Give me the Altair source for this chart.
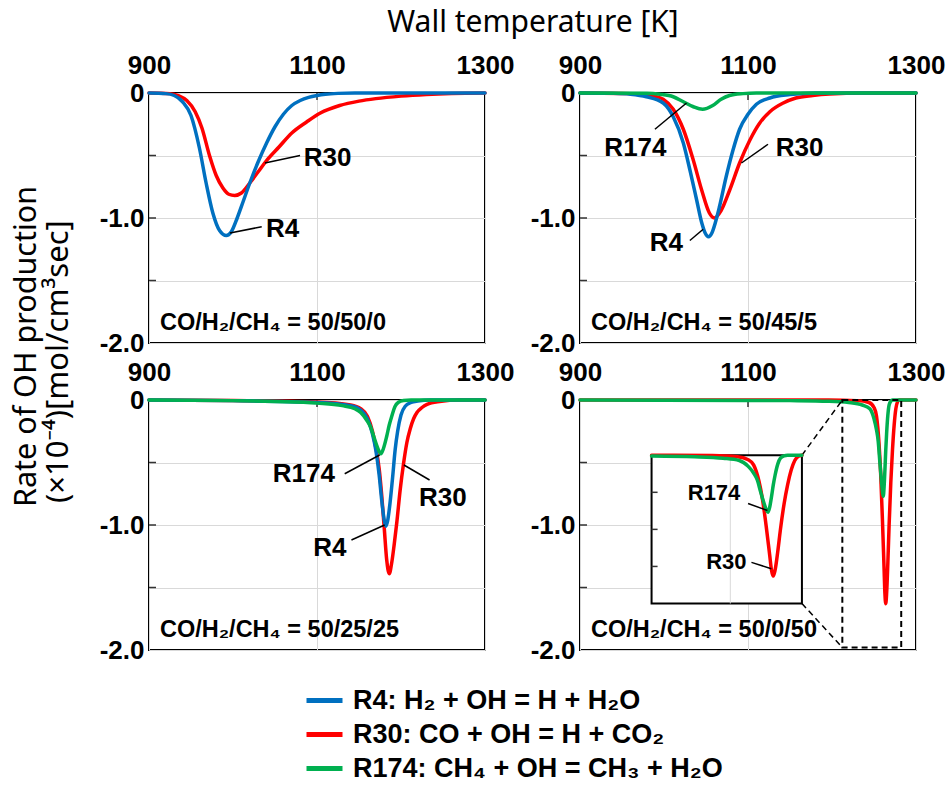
import altair as alt
import pandas as pd

# ------------------------------------------------------------------
# Data (wall temperature [K], OH production rate x1e-4)
# ------------------------------------------------------------------
# Panel 1: CO/H2/CH4 = 50/50/0
P1_R4_T = [900, 920, 930, 940, 950, 960, 968, 976, 984, 992, 998, 1005, 1012, 1020, 1030, 1040, 1050, 1060, 1070, 1080, 1090, 1100, 1110, 1125, 1145, 1300]
P1_R4_V = [0, -0.005, -0.02, -0.07, -0.18, -0.44, -0.72, -0.96, -1.10, -1.14, -1.11, -1.00, -0.87, -0.72, -0.55, -0.40, -0.27, -0.17, -0.10, -0.06, -0.035, -0.02, -0.01, -0.003, 0, 0]
P1_R30_T = [900, 925, 935, 945, 955, 963, 972, 980, 988, 995, 1002, 1010, 1020, 1030, 1040, 1055, 1070, 1088, 1104, 1127, 1150, 1170, 1200, 1230, 1260, 1300]
P1_R30_V = [0, -0.005, -0.02, -0.06, -0.15, -0.28, -0.50, -0.66, -0.76, -0.81, -0.82, -0.80, -0.72, -0.63, -0.54, -0.43, -0.32, -0.23, -0.16, -0.10, -0.065, -0.045, -0.025, -0.012, -0.004, 0]

# Panel 2: CO/H2/CH4 = 50/45/5
P2_R4_T = [900, 940, 960, 979, 999, 1011, 1023, 1031, 1039, 1045, 1049, 1053, 1057, 1061, 1066, 1074, 1082, 1090, 1100, 1110, 1126, 1150, 1180, 1300]
P2_R4_V = [0, -0.003, -0.01, -0.03, -0.08, -0.19, -0.40, -0.62, -0.86, -1.04, -1.12, -1.15, -1.12, -1.04, -0.91, -0.67, -0.46, -0.29, -0.17, -0.09, -0.04, -0.013, 0, 0]
P2_R30_T = [900, 960, 985, 999, 1011, 1023, 1035, 1045, 1054, 1060, 1068, 1078, 1090, 1102, 1114, 1126, 1142, 1157, 1177, 1197, 1237, 1300]
P2_R30_V = [0, -0.005, -0.02, -0.05, -0.13, -0.29, -0.54, -0.78, -0.96, -1.00, -0.94, -0.78, -0.56, -0.38, -0.24, -0.15, -0.08, -0.04, -0.02, -0.008, 0, 0]
P2_R174_T = [900, 980, 995, 1011, 1023, 1035, 1046, 1058, 1068, 1078, 1094, 1110, 1300]
P2_R174_V = [0, -0.002, -0.01, -0.03, -0.07, -0.11, -0.13, -0.10, -0.05, -0.02, -0.005, 0, 0]

# Panel 3: CO/H2/CH4 = 50/25/25
P3_R4_T = [900, 1000, 1100, 1140, 1152, 1160, 1166, 1170, 1174, 1177, 1180, 1182, 1184, 1187, 1190, 1193, 1196, 1200, 1205, 1212, 1220, 1235, 1260, 1300]
P3_R4_V = [0, -0.005, -0.02, -0.045, -0.08, -0.15, -0.27, -0.40, -0.60, -0.80, -0.96, -1.01, -0.97, -0.82, -0.62, -0.40, -0.25, -0.12, -0.05, -0.02, -0.008, 0, 0, 0]
P3_R30_T = [900, 1000, 1100, 1140, 1152, 1160, 1166, 1170, 1174, 1177, 1180, 1183, 1186, 1189, 1192, 1195, 1199, 1203, 1207, 1211, 1215, 1219, 1225, 1231, 1246, 1270, 1300]
P3_R30_V = [0, -0.004, -0.015, -0.04, -0.07, -0.13, -0.25, -0.38, -0.55, -0.76, -1.02, -1.28, -1.39, -1.30, -1.15, -0.98, -0.72, -0.51, -0.34, -0.23, -0.15, -0.10, -0.06, -0.035, -0.012, 0, 0]
P3_R174_T = [900, 1000, 1050, 1100, 1130, 1145, 1152, 1159, 1164, 1168, 1172, 1176, 1179, 1183, 1186, 1189, 1193, 1197, 1203, 1212, 1300]
P3_R174_V = [0, -0.005, -0.012, -0.025, -0.045, -0.07, -0.10, -0.16, -0.22, -0.30, -0.38, -0.43, -0.39, -0.29, -0.20, -0.13, -0.05, -0.018, -0.004, 0, 0]

# Panel 4: CO/H2/CH4 = 50/0/50
P4_R30_T = [900, 1100, 1196, 1230, 1244, 1250, 1253, 1256, 1258, 1260, 1262, 1263, 1264, 1265, 1266.5, 1268, 1270, 1272, 1274, 1276, 1278, 1280, 1300]
P4_R30_V = [0, 0, 0, -0.005, -0.02, -0.06, -0.13, -0.35, -0.60, -0.95, -1.35, -1.55, -1.63, -1.55, -1.30, -1.00, -0.66, -0.40, -0.20, -0.07, -0.015, 0, 0]
P4_R174_T = [900, 1100, 1150, 1196, 1220, 1236, 1245, 1250, 1253, 1255, 1257, 1259, 1260, 1261, 1262, 1263, 1264, 1265, 1266.5, 1268, 1270, 1272, 1280, 1300]
P4_R174_V = [0, -0.003, -0.005, -0.01, -0.02, -0.04, -0.07, -0.15, -0.24, -0.33, -0.50, -0.66, -0.73, -0.77, -0.70, -0.56, -0.40, -0.27, -0.12, -0.04, -0.01, 0, 0, 0]

# Series / legend
SERIES_KEYS = ["R4", "R30", "R174"]
REACTIONS = ["R4: H₂ + OH = H + H₂O", "R30: CO + OH = H + CO₂", "R174: CH₄ + OH = CH₃ + H₂O"]
COLORS = ["#0070C0", "#FF0000", "#00B050"]
DRAW_ORDER = ["R30", "R4", "R174"]

COMPOSITIONS = ["CO/H₂/CH₄ = 50/50/0", "CO/H₂/CH₄ = 50/45/5", "CO/H₂/CH₄ = 50/25/25", "CO/H₂/CH₄ = 50/0/50"]

# Curve labels (text, T, value) and leader lines (T1, v1, T2, v2)
P1_LABELS = [("R30", 1112.5, -0.52), ("R4", 1059, -1.09)]
P1_LEADERS = [(1038, -0.56, 1079.8, -0.50), (996.4, -1.12, 1034.2, -1.07)]
P2_LABELS = [("R174", 966, -0.44), ("R30", 1161.5, -0.44), ("R4", 1002.8, -1.20)]
P2_LEADERS = [(989.2, -0.29, 1026.8, -0.08), (1092.2, -0.56, 1123.8, -0.41), (1030.8, -1.18, 1046.6, -1.09)]
P3_LABELS = [("R174", 1084.3, -0.59), ("R30", 1249.8, -0.78), ("R4", 1115.2, -1.18)]
P3_LEADERS = [(1133, -0.59, 1174.6, -0.44), (1203.5, -0.52, 1234, -0.64), (1141, -1.12, 1180.5, -1.0)]
INSET_LABELS = [("R174", 1230.9, -0.51), ("R30", 1237.8, -1.445)]
INSET_LEADERS = [(1249.9, -0.65, 1260.7, -0.745), (1251.8, -1.445, 1262.9, -1.53)]

# Axes ticks
X_TICKS = [900, 1100, 1300]
Y_TICKS = [0, -0.5, -1.0, -1.5, -2.0]
Y_MINOR = [-0.5, -1.0, -1.5]
COMP_POS = (913, -1.84)

# Inset (panel 4): zoom window, inset box (in main-panel units), inset domain
ZOOM_T = [1212.3, 1282.4]
ZOOM_V = [0.0, -1.98]
INSET_BOX_T = [985.2, 1164.2]
INSET_BOX_V = [-0.442, -1.628]
INSET_T = [1196, 1280]
INSET_V = [-2.0, 0.0]
INSET_GRID_T = [1240]

TITLE_X = "Wall temperature [K]"
TITLE_Y1 = "Rate of OH production"
TITLE_Y2 = "(×10⁻⁴)[mol/cm³sec]"

# ------------------------------------------------------------------
W, H = 336, 250
BOLD_FONT = "Liberation Sans, Arial, DejaVu Sans"
TITLE_FONT = "Noto Sans, DejaVu Sans"

XSCALE = alt.Scale(domain=[900, 1300], nice=False, zero=False)
YSCALE = alt.Scale(domain=[-2.0, 0.0], nice=False, zero=False)
XAXIS = alt.Axis(orient="top", values=X_TICKS, title=None, format="d", labelFontSize=26, labelFont=BOLD_FONT,
                 labelFontWeight="bold", labelColor="black", labelFlush=False, labelOverlap=False,
                 labelPadding=15, ticks=False, domain=False, grid=True, gridColor="#d9d9d9", gridWidth=1)
YAXIS = alt.Axis(orient="left", values=Y_TICKS, title=None, labelFontSize=26, labelFont=BOLD_FONT,
                 labelFontWeight="bold", labelColor="black", labelOverlap=False, labelPadding=5,
                 labelExpr="datum.value == 0 ? '0' : (datum.value == -1 ? '-1.0' : (datum.value == -2 ? '-2.0' : ''))",
                 ticks=False, domain=False, grid=True, gridColor="#d9d9d9", gridWidth=1)

LEGEND = alt.Legend(orient="none", legendX=155, legendY=587, title=None, symbolType="stroke",
                    symbolSize=1296, symbolStrokeWidth=5, labelFontSize=27, labelFont=BOLD_FONT,
                    labelFontWeight="bold", labelColor="black", labelOffset=8, rowPadding=0,
                    padding=0, labelLimit=0)
COLOR = alt.Color("reaction:N", scale=alt.Scale(domain=REACTIONS, range=COLORS), legend=LEGEND)

X = alt.X("t:Q", scale=XSCALE, axis=XAXIS)
Y = alt.Y("v:Q", scale=YSCALE, axis=YAXIS)


def curves(series, x, y, tmin=None, tmax=None):
    out = []
    for key in DRAW_ORDER:
        if key not in series:
            continue
        ts, vs = series[key]
        df = pd.DataFrame({"t": ts, "v": vs})
        if tmin is not None:
            df = df[(df.t >= tmin) & (df.t <= tmax)]
        df["reaction"] = REACTIONS[SERIES_KEYS.index(key)]
        out.append(alt.Chart(df).mark_line(strokeWidth=3.5, interpolate="monotone",
                                           strokeJoin="round", strokeCap="round")
                   .encode(x=x, y=y, color=COLOR))
    return out


def labels(items, x, y, size=26):
    df = pd.DataFrame(items, columns=["label", "t", "v"])
    return alt.Chart(df).mark_text(font=BOLD_FONT, fontWeight="bold", fontSize=size, color="black") \
        .encode(x=x, y=y, text="label:N")


def leaders(items, x, y):
    df = pd.DataFrame(items, columns=["t", "v", "t2", "v2"])
    return alt.Chart(df).mark_rule(color="black", strokeWidth=1.5) \
        .encode(x=x, y=y, x2="t2:Q", y2="v2:Q")


def base_layers(idx):
    lay = []
    lay.append(alt.Chart(pd.DataFrame({"v": Y_MINOR})).mark_rule(color="#333333", strokeWidth=1.5)
               .encode(y=Y, x=alt.value(0), x2=alt.value(7)))
    lay.append(alt.Chart(pd.DataFrame({"t": [1100]})).mark_rule(color="#333333", strokeWidth=1.5)
               .encode(x=X, y=alt.value(0), y2=alt.value(7)))
    comp = pd.DataFrame({"t": [COMP_POS[0]], "v": [COMP_POS[1]], "label": [COMPOSITIONS[idx]]})
    lay.append(alt.Chart(comp).mark_text(align="left", font=BOLD_FONT, fontWeight="bold",
                                         fontSize=23.5, color="black")
               .encode(x=X, y=Y, text="label:N"))
    return lay


# Panel 1
p1_layers = base_layers(0) + curves({"R4": (P1_R4_T, P1_R4_V), "R30": (P1_R30_T, P1_R30_V)}, X, Y)
p1_layers += [leaders(P1_LEADERS, X, Y), labels(P1_LABELS, X, Y)]
p1_layers.append(alt.Chart(pd.DataFrame({"label": [TITLE_X]})).mark_text(
    font=TITLE_FONT, fontSize=30, color="black", baseline="alphabetic")
    .encode(x=alt.value(384), y=alt.value(-61), text="label:N"))
p1_layers.append(alt.Chart(pd.DataFrame({"label": [TITLE_Y1]})).mark_text(
    font=TITLE_FONT, fontSize=30.5, color="black", angle=270, align="left", baseline="alphabetic")
    .encode(x=alt.value(-113), y=alt.value(414), text="label:N"))
p1_layers.append(alt.Chart(pd.DataFrame({"label": [TITLE_Y2]})).mark_text(
    font=TITLE_FONT, fontSize=31, color="black", angle=270, align="left", baseline="alphabetic")
    .encode(x=alt.value(-81), y=alt.value(410), text="label:N"))
p1 = alt.layer(*p1_layers).properties(width=W, height=H)

# Panel 2
p2_layers = base_layers(1) + curves({"R4": (P2_R4_T, P2_R4_V), "R30": (P2_R30_T, P2_R30_V),
                                     "R174": (P2_R174_T, P2_R174_V)}, X, Y)
p2_layers += [leaders(P2_LEADERS, X, Y), labels(P2_LABELS, X, Y)]
p2 = alt.layer(*p2_layers).properties(width=W, height=H)

# Panel 3
p3_layers = base_layers(2) + curves({"R4": (P3_R4_T, P3_R4_V), "R30": (P3_R30_T, P3_R30_V),
                                     "R174": (P3_R174_T, P3_R174_V)}, X, Y)
p3_layers += [leaders(P3_LEADERS, X, Y), labels(P3_LABELS, X, Y)]
p3 = alt.layer(*p3_layers).properties(width=W, height=H)

# Panel 4 (main + inset)
p4_series = {"R30": (P4_R30_T, P4_R30_V), "R174": (P4_R174_T, P4_R174_V)}
p4_main = base_layers(3) + curves(p4_series, X, Y)
zoom_df = pd.DataFrame({"t": [ZOOM_T[0]], "t2": [ZOOM_T[1]], "v": [ZOOM_V[0]], "v2": [ZOOM_V[1]]})
p4_main.append(alt.Chart(zoom_df).mark_rect(filled=False, stroke="black", strokeWidth=2, strokeDash=[6, 4])
               .encode(x=X, x2="t2:Q", y=Y, y2="v2:Q"))
conn_df = pd.DataFrame({"t": [INSET_BOX_T[1], INSET_BOX_T[1]], "v": [INSET_BOX_V[0], INSET_BOX_V[1]],
                        "t2": [ZOOM_T[0], ZOOM_T[0]], "v2": [ZOOM_V[0], ZOOM_V[1]]})
p4_main.append(alt.Chart(conn_df).mark_rule(color="black", strokeWidth=1.5, strokeDash=[6, 4])
               .encode(x=X, y=Y, x2="t2:Q", y2="v2:Q"))

ix_range = [(t - 900) / 400 * W for t in INSET_BOX_T]
iy_range = [-v / 2.0 * H for v in INSET_BOX_V]
IX = alt.X("t:Q", scale=alt.Scale(domain=INSET_T, range=ix_range, nice=False, zero=False), axis=None)
IY = alt.Y("v:Q", scale=alt.Scale(domain=INSET_V, range=[iy_range[1], iy_range[0]], nice=False, zero=False), axis=None)

inset = []
box_df = pd.DataFrame({"t": [INSET_T[0]], "t2": [INSET_T[1]], "v": [INSET_V[1]], "v2": [INSET_V[0]]})
inset.append(alt.Chart(box_df).mark_rect(fill="white", stroke="black", strokeWidth=2)
             .encode(x=IX, x2="t2:Q", y=IY, y2="v2:Q"))
grid_df = pd.DataFrame({"t": INSET_GRID_T, "v": [INSET_V[1]], "v2": [INSET_V[0]]})
inset.append(alt.Chart(grid_df).mark_rule(color="#d9d9d9", strokeWidth=1)
             .encode(x=IX, y=IY, y2="v2:Q"))
inset.append(alt.Chart(pd.DataFrame({"v": Y_MINOR})).mark_rule(color="#333333", strokeWidth=1.5)
             .encode(y=IY, x=alt.value(ix_range[0]), x2=alt.value(ix_range[0] + 6)))
inset += curves(p4_series, IX, IY, INSET_T[0], INSET_T[1])
inset += [leaders(INSET_LEADERS, IX, IY), labels(INSET_LABELS, IX, IY, size=22)]

p4 = alt.layer(alt.layer(*p4_main), alt.layer(*inset)).resolve_scale(x="independent", y="independent") \
    .properties(width=W, height=H)

chart = alt.concat(p1, p2, p3, p4, columns=2, spacing={"row": 57, "column": 95}, bounds="flush").properties(
    padding={"left": 10, "top": 7, "right": 0, "bottom": 0}
).configure(background="white").configure_view(stroke="black", strokeWidth=2)

chart.save("out.html", embed_options={"renderer": "svg", "actions": False})
